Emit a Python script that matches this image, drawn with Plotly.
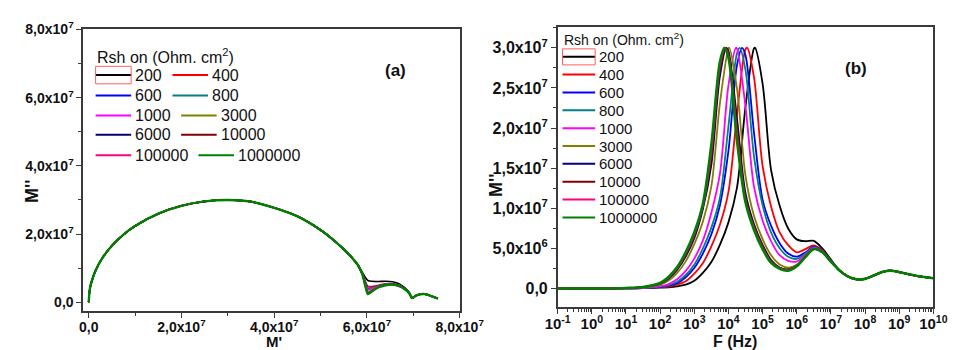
import plotly.graph_objects as go

# ---------------- data ----------------
RSH = ["200", "400", "600", "800", "1000", "3000", "6000", "10000", "100000", "1000000"]
COLORS = ["#000000", "#FF0000", "#0000FF", "#008080", "#FF00FF",
          "#808000", "#000080", "#800000", "#FF0080", "#008000"]

# Panel (a): Nyquist plot M'' vs M' (values in units of 1e7)
ARC_MR = [0, 0.02, 0.05, 0.15, 0.3, 0.5, 0.75, 1.0, 1.5, 2.0, 2.5, 3.0, 3.5, 4.0, 4.5, 5.0, 5.3, 5.6, 5.8]
ARC_MI = [0, 0.345, 0.545, 0.937, 1.308, 1.658, 1.984, 2.236, 2.598, 2.828, 2.958, 3.0, 2.95, 2.77, 2.52, 2.12, 1.8, 1.42, 1.1]
LOOP_MR = [5.9, 5.97, 6.02, 6.1, 6.25, 6.4, 6.55, 6.7, 6.82, 6.92, 6.97]
LOOP_MI = [
    [0.88, 0.72, 0.64, 0.615, 0.61, 0.615, 0.6, 0.54, 0.42, 0.27, 0.13],   # 200
    [0.85, 0.6, 0.47, 0.46, 0.5, 0.54, 0.545, 0.5, 0.39, 0.25, 0.12],      # 400
    [0.84, 0.57, 0.41, 0.42, 0.48, 0.53, 0.54, 0.495, 0.39, 0.245, 0.12],  # 600
    [0.84, 0.55, 0.39, 0.41, 0.475, 0.525, 0.535, 0.49, 0.385, 0.245, 0.12],  # 800
    [0.83, 0.53, 0.36, 0.39, 0.465, 0.52, 0.53, 0.49, 0.385, 0.245, 0.12],   # 1000
    [0.83, 0.5, 0.3, 0.35, 0.455, 0.51, 0.525, 0.48, 0.38, 0.25, 0.12],      # 3000
    [0.82, 0.48, 0.27, 0.33, 0.45, 0.505, 0.52, 0.475, 0.38, 0.25, 0.12],    # 6000
    [0.82, 0.47, 0.26, 0.32, 0.45, 0.505, 0.52, 0.47, 0.38, 0.25, 0.12],     # 10000
    [0.82, 0.46, 0.25, 0.32, 0.445, 0.5, 0.52, 0.47, 0.38, 0.25, 0.12],      # 100000
    [0.82, 0.45, 0.24, 0.31, 0.44, 0.5, 0.52, 0.47, 0.38, 0.25, 0.12],       # 1000000
]
END_MR = [7.05, 7.15, 7.25, 7.35, 7.45, 7.53]
END_MI = [0.19, 0.235, 0.24, 0.2, 0.15, 0.11]

# Panel (b): M'' vs F (values in units of 1e6)
FREQ_HZ = [1e-1, 1e0, 1e1, 3.16e1, 1e2, 1.78e2, 3.16e2, 5.62e2, 1e3, 1.78e3, 3.16e3, 5.62e3,
           1e4, 1.78e4, 3.16e4, 5.62e4, 1e5, 1.78e5, 3.16e5, 5.62e5, 1e6, 1.78e6, 3.16e6, 5.62e6, 1e7]
M2_VALUES = [
    [0, 0, 0.01, 0.04, 0.11, 0.15, 0.26, 0.48, 0.96, 1.95, 3.30, 5.43, 8.24, 12.56, 22.68, 29.95, 25.54, 14.73, 10.3, 7.47, 6.12, 5.89, 5.94, 4.99, 3.59],
    [0, 0, 0.02, 0.06, 0.17, 0.24, 0.47, 0.9, 1.85, 3.15, 5.25, 7.95, 12.05, 21.68, 29.82, 26.28, 15.28, 10.2, 7.0, 5.4, 4.5, 4.9, 5.37, 4.75, 3.47],
    [0, 0, 0.02, 0.06, 0.18, 0.35, 0.66, 1.40, 2.55, 4.35, 6.75, 10.35, 17.15, 27.83, 29.07, 19.38, 11.08, 7.80, 5.65, 4.35, 3.96, 4.48, 5.2, 4.66, 3.42],
    [0, 0, 0.01, 0.07, 0.22, 0.42, 0.83, 1.68, 2.97, 4.98, 7.59, 11.28, 20.21, 29.33, 27.21, 16.44, 10.39, 6.96, 5.02, 3.95, 3.69, 4.33, 5.13, 4.63, 3.4],
    [0, 0, 0.01, 0.09, 0.29, 0.56, 1.14, 2.19, 3.72, 5.97, 9.45, 14.28, 25.31, 29.9, 22.68, 12.66, 8.47, 5.88, 4.15, 3.45, 3.36, 4.18, 5.06, 4.59, 3.38],
    [0, 0, 0.05, 0.14, 0.49, 0.99, 1.95, 3.38, 5.52, 8.31, 12.72, 23.04, 29.93, 24.92, 14.04, 9.03, 6.16, 4.13, 2.99, 2.61, 2.94, 3.99, 4.95, 4.53, 3.35],
    [0, 0, 0.05, 0.17, 0.59, 1.23, 2.35, 3.99, 6.27, 9.87, 15.42, 26.43, 29.6, 21.2, 11.88, 8.01, 5.44, 3.54, 2.62, 2.37, 2.85, 3.93, 4.93, 4.52, 3.34],
    [0, 0, 0.06, 0.17, 0.62, 1.29, 2.45, 4.17, 6.51, 10.11, 16.26, 27.09, 29.3, 20.24, 11.4, 7.77, 5.26, 3.42, 2.58, 2.34, 2.83, 3.92, 4.92, 4.52, 3.34],
    [0, 0, 0.06, 0.18, 0.66, 1.40, 2.55, 4.35, 6.75, 10.35, 17.1, 27.75, 29.0, 19.28, 10.92, 7.53, 5.08, 3.30, 2.5, 2.28, 2.8, 3.91, 4.92, 4.52, 3.34],
    [0, 0, 0.06, 0.19, 0.69, 1.47, 2.67, 4.53, 6.99, 10.53, 17.94, 28.23, 28.76, 18.44, 10.74, 7.29, 4.90, 3.18, 2.44, 2.22, 2.78, 3.9, 4.92, 4.52, 3.34],
]
PEAK_HZ = [6.0e4, 3.55e4, 2.5e4, 2.14e4, 1.66e4, 1.05e4, 8.7e3, 8.3e3, 7.9e3, 7.6e3]
PEAK_M2 = [30.0, 30.0, 30.0, 30.0, 30.0, 30.0, 30.0, 30.0, 30.0, 30.0]
TAIL_HZ = [1.78e7, 3.16e7, 5.62e7, 1e8, 1.78e8, 3.16e8, 5.62e8, 1e9, 1.78e9, 3.16e9, 5.62e9, 1e10]
TAIL_M2 = [2.25, 1.5, 1.15, 1.2, 1.6, 2.05, 2.22, 2.05, 1.8, 1.58, 1.42, 1.28]

# Tick labels
A_X_TICKS = [0, 2e7, 4e7, 6e7, 8e7]
A_X_LABELS = ["0,0", "2,0x10<sup>7</sup>", "4,0x10<sup>7</sup>", "6,0x10<sup>7</sup>", "8,0x10<sup>7</sup>"]
A_Y_TICKS = [0, 2e7, 4e7, 6e7, 8e7]
A_Y_LABELS = ["0,0", "2,0x10<sup>7</sup>", "4,0x10<sup>7</sup>", "6,0x10<sup>7</sup>", "8,0x10<sup>7</sup>"]
B_X_TICKS = [1e-1, 1e0, 1e1, 1e2, 1e3, 1e4, 1e5, 1e6, 1e7, 1e8, 1e9, 1e10]
B_X_LABELS = ["10<sup>-1</sup>", "10<sup>0</sup>", "10<sup>1</sup>", "10<sup>2</sup>", "10<sup>3</sup>",
              "10<sup>4</sup>", "10<sup>5</sup>", "10<sup>6</sup>", "10<sup>7</sup>", "10<sup>8</sup>",
              "10<sup>9</sup>", "10<sup>10</sup>"]
B_Y_TICKS = [0, 5e6, 1e7, 1.5e7, 2e7, 2.5e7, 3e7]
B_Y_LABELS = ["0,0", "5,0x10<sup>6</sup>", "1,0x10<sup>7</sup>", "1,5x10<sup>7</sup>",
              "2,0x10<sup>7</sup>", "2,5x10<sup>7</sup>", "3,0x10<sup>7</sup>"]

LEGEND_TITLE = "Rsh on (Ohm. cm<sup>2</sup>)"

# ---------------- figure ----------------
W, H = 966, 350
FONT = "Liberation Sans, Arial, sans-serif"
AX = "#3a3a3a"


def pxx(x):
    return x / W


def pyy(y):
    return 1 - y / H


fig = go.Figure()

for name, color, loop in zip(RSH, COLORS, LOOP_MI):
    mr = ARC_MR + LOOP_MR + END_MR
    mi = ARC_MI + loop + END_MI
    fig.add_trace(go.Scatter(
        x=[v * 1e7 for v in mr], y=[v * 1e7 for v in mi], mode="lines", name=name,
        line=dict(color=color, width=2.4 if name == "1000000" else 1.6, shape="spline", smoothing=0.6),
        xaxis="x", yaxis="y", showlegend=False, hoverinfo="skip"))

for name, color, vals, pf, pm in zip(RSH, COLORS, M2_VALUES, PEAK_HZ, PEAK_M2):
    pts = sorted(list(zip(FREQ_HZ, vals)) + [(pf, pm)] + list(zip(TAIL_HZ, TAIL_M2)))
    fig.add_trace(go.Scatter(
        x=[p[0] for p in pts], y=[p[1] * 1e6 for p in pts], mode="lines", name=name,
        line=dict(color=color, width=2.6 if name == "1000000" else 1.8, shape="spline", smoothing=0.9),
        xaxis="x2", yaxis="y2", showlegend=False, hoverinfo="skip"))


def axis_style(size):
    return dict(showline=True, mirror=True, linecolor=AX, linewidth=1.5, ticks="outside",
                ticklen=5, tickwidth=1.3, tickcolor=AX, showgrid=False, zeroline=False,
                tickfont=dict(family=FONT, size=size, color="#111111", weight="bold"))


def minor(dt):
    return dict(ticks="outside", ticklen=3, tickwidth=1, tickcolor=AX, dtick=dt, showgrid=False)


fig.update_layout(
    width=W, height=H, autosize=False,
    margin=dict(l=0, r=0, t=0, b=0),
    paper_bgcolor="white", plot_bgcolor="white",
    xaxis=dict(domain=[pxx(73), pxx(465)], range=[-0.12e7, 8e7], anchor="y",
               tickmode="array", tickvals=A_X_TICKS, ticktext=A_X_LABELS,
               ticklabelstandoff=-3, minor=minor(1e7), **axis_style(14)),
    yaxis=dict(domain=[pyy(310), pyy(20)], range=[-0.26e7, 8e7], anchor="x",
               tickmode="array", tickvals=A_Y_TICKS, ticktext=A_Y_LABELS,
               minor=minor(1e7), **axis_style(14)),
    xaxis2=dict(domain=[pxx(567), pxx(958)], type="log", range=[-1, 10], anchor="y2",
                tickmode="array", tickvals=B_X_TICKS, ticktext=B_X_LABELS,
                ticklabelstandoff=-3, minor=minor("D1"), **axis_style(15)),
    yaxis2=dict(domain=[pyy(306), pyy(18)], range=[-2.34e6, 3.253e7], anchor="x2",
                tickmode="array", tickvals=B_Y_TICKS, ticktext=B_Y_LABELS,
                minor=minor(2.5e6), **axis_style(16)),
)

shapes = []
annotations = []


def label(x, y, text, size=15, bold=False, xanchor="left", angle=0):
    annotations.append(dict(x=pxx(x), y=pyy(y), xref="paper", yref="paper", text=text,
                            showarrow=False, xanchor=xanchor, yanchor="middle", textangle=angle,
                            font=dict(family=FONT, size=size, color="#111111",
                                      weight="bold" if bold else "normal")))


def keyline(x0, x1, y, color):
    shapes.append(dict(type="line", xref="paper", yref="paper", x0=pxx(x0), x1=pxx(x1),
                       y0=pyy(y), y1=pyy(y), line=dict(color=color, width=2)))


# axis titles and panel tags
label(19, 186, "M''", size=18, bold=True, xanchor="center", angle=-90)
label(272, 341, "M'", size=15, bold=True, xanchor="center")
label(503, 180, "M''", size=18, bold=True, xanchor="center", angle=-90)
label(752, 341, "F (Hz)", size=16, bold=True, xanchor="center")
label(398, 62, "(a)", size=17, bold=True, xanchor="center")
label(877, 60, "(b)", size=17, bold=True, xanchor="center")

# legend panel (a): two columns
label(85, 47, LEGEND_TITLE, size=16)
rows_a = [67, 88, 108.5, 128.5, 149.5]
for i, yrow in enumerate(rows_a):
    n1, n2 = RSH[2 * i], RSH[2 * i + 1]
    c1, c2 = COLORS[2 * i], COLORS[2 * i + 1]
    keyline(86, 123, yrow, c1)
    label(125, yrow, n1, size=16)
    x2 = 127 + 9 * len(n1) + 12
    keyline(x2, x2 + 37, yrow, c2)
    label(x2 + 39, yrow, n2, size=16)
shapes.append(dict(type="rect", xref="paper", yref="paper", x0=pxx(86), x1=pxx(123),
                   y0=pyy(76), y1=pyy(58), line=dict(color="#FF6060", width=1)))

# legend panel (b): one column
label(571, 30, LEGEND_TITLE, size=14)
for i, (n, c) in enumerate(zip(RSH, COLORS)):
    yrow = 48 + i * 18.4
    keyline(572, 606, yrow, c)
    label(608, yrow, n, size=15)
shapes.append(dict(type="rect", xref="paper", yref="paper", x0=pxx(572), x1=pxx(606),
                   y0=pyy(56.5), y1=pyy(40), line=dict(color="#FF6060", width=1)))

fig.update_layout(shapes=shapes, annotations=annotations)
fig.write_html("out.html")
